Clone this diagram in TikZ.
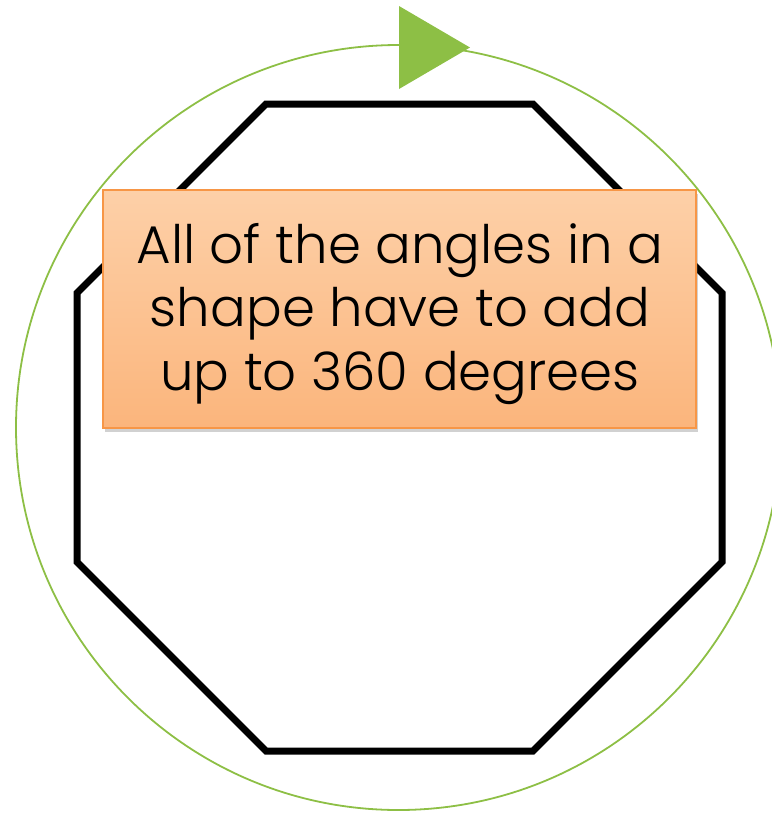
\documentclass[tikz,border=0pt]{standalone}
\usepackage{fontspec}
\setmainfont{Poppins Light}
\usetikzlibrary{shadows}
\definecolor{ringgreen}{HTML}{8DBF45}
\definecolor{boxtop}{HTML}{FDD0A8}
\definecolor{boxbot}{HTML}{FBB57C}
\definecolor{boxedge}{HTML}{F79646}
\tikzset{
  ring/.style={draw=ringgreen, line width=1.8pt},
  octo/.style={draw=black, line width=7pt, line join=miter},
  arrowtri/.style={fill=ringgreen, draw=none},
  notebox/.style={draw=boxedge, line width=1.5pt, top color=boxtop, bottom color=boxbot,
    minimum width=593pt, minimum height=238pt, inner sep=0pt,
    drop shadow={shadow xshift=2pt, shadow yshift=-4pt, opacity=0.3, fill=black!60}},
  notetext/.style={align=center, inner sep=0pt, font=\fontsize{53}{63.5}\selectfont}
}
\begin{document}
\begin{tikzpicture}[x=1pt,y=-1pt]
\useasboundingbox (0,0) rectangle (772,815);
\begin{scope}
\clip (0,0) rectangle (772,815);
\node[ring, circle, minimum size=765pt, inner sep=0pt] (ring) at (398.5,427.5) {};
\end{scope}
\draw[octo] (266,104) -- (533,104) -- (722,293) -- (722,562) -- (533,751) -- (266,751) -- (77,562) -- (77,293) -- cycle;
\fill[arrowtri] (399,6) -- (470,47.5) -- (399,89) -- cycle;
\node[notebox] (note) at (399.5,309) {};
\node[notetext, anchor=base] (txt) at (400,390) {All of the angles in a\\shape have to add\\up to 360 degrees};
\end{tikzpicture}
\end{document}
